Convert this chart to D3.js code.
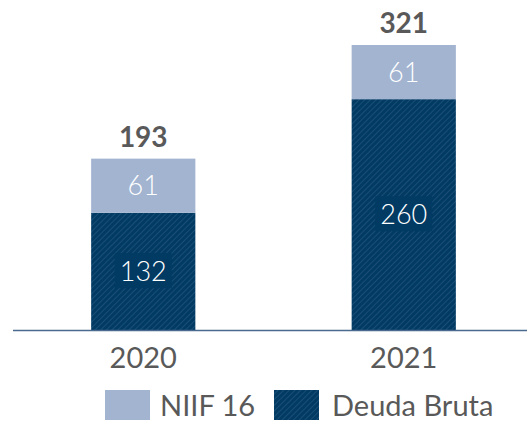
<!DOCTYPE html>
<html>
<head>
<meta charset="utf-8">
<script src="https://cdn.jsdelivr.net/npm/d3@7"></script>
<style>
  body { margin: 0; background: #fff; }
  svg text { font-family: Lato, "Open Sans", sans-serif; }
</style>
</head>
<body>
<div id="chart"></div>
<script>
// datos
var years = ["2020", "2021"];
var deudaBruta = [132, 260];
var niif16 = [61, 61];
var totals = [193, 321];
var seriesNames = ["NIIF 16", "Deuda Bruta"];

var width = 527, height = 421;
var baseY = 330;

var svg = d3.select("#chart").append("svg")
    .attr("width", width)
    .attr("height", height);

// patron rayado
var pat = svg.append("defs").append("pattern")
    .attr("id", "hatch")
    .attr("patternUnits", "userSpaceOnUse")
    .attr("width", 4).attr("height", 4)
    .attr("patternTransform", "rotate(45)");
pat.append("rect").attr("width", 4).attr("height", 4).attr("fill", "#013a63");
pat.append("line").attr("x1", 0).attr("y1", 0).attr("x2", 0).attr("y2", 4)
    .attr("stroke", "#2f5e86").attr("stroke-width", 1.1);

var x = d3.scaleBand().domain(years).range([13, 534]).paddingInner(0.6).paddingOuter(0.3);
var y = d3.scaleLinear().domain([0, 321]).range([baseY, 45]);

var colorLight = "#a2b4d0";

var g = svg.append("g");

// deuda bruta
g.selectAll(".deuda").data(years).enter().append("rect")
    .attr("x", function (d) { return x(d); })
    .attr("y", function (d, i) { return y(deudaBruta[i]); })
    .attr("width", x.bandwidth())
    .attr("height", function (d, i) { return baseY - y(deudaBruta[i]); })
    .attr("fill", "url(#hatch)");

// niif 16
g.selectAll(".niif").data(years).enter().append("rect")
    .attr("x", function (d) { return x(d); })
    .attr("y", function (d, i) { return y(deudaBruta[i] + niif16[i]); })
    .attr("width", x.bandwidth())
    .attr("height", function (d, i) { return y(deudaBruta[i]) - y(deudaBruta[i] + niif16[i]); })
    .attr("fill", colorLight);

// etiquetas deuda con fondo
years.forEach(function (d, i) {
    var cx = x(d) + x.bandwidth() / 2;
    var cy = (y(0) + y(deudaBruta[i])) / 2;
    var t = g.append("text")
        .attr("x", cx).attr("y", cy)
        .attr("text-anchor", "middle").attr("dy", "0.36em")
        .attr("font-size", 27).attr("font-weight", 300).attr("fill", "#fff")
        .text(deudaBruta[i]);
    var bb = t.node().getBBox();
    g.insert("rect", function () { return t.node(); })
        .attr("x", bb.x - 5).attr("y", bb.y - 1)
        .attr("width", bb.width + 10).attr("height", bb.height + 2)
        .attr("fill", "#013a63");

    g.append("text")
        .attr("x", cx).attr("y", (y(deudaBruta[i]) + y(totals[i])) / 2)
        .attr("text-anchor", "middle").attr("dy", "0.36em")
        .attr("font-size", 27).attr("font-weight", 300).attr("fill", "#fff")
        .text(niif16[i]);

    g.append("text")
        .attr("x", cx).attr("y", y(totals[i]) - 22)
        .attr("text-anchor", "middle").attr("dy", "0.36em")
        .attr("font-size", 28).attr("font-weight", "bold").attr("fill", "#595959")
        .text(totals[i]);
});

// eje
svg.append("line")
    .attr("x1", 13).attr("x2", width)
    .attr("y1", baseY + 0.5).attr("y2", baseY + 0.5)
    .attr("stroke", "#4a6a8f").attr("stroke-width", 1.5);

svg.selectAll(".yr").data(years).enter().append("text")
    .attr("x", function (d) { return x(d) + x.bandwidth() / 2; })
    .attr("y", 358).attr("dy", "0.36em")
    .attr("text-anchor", "middle")
    .attr("font-size", 29).attr("fill", "#595959")
    .text(function (d) { return d; });

// leyenda
var legend = [
    { name: seriesNames[0], fill: colorLight, x: 105, tx: 160 },
    { name: seriesNames[1], fill: "url(#hatch)", x: 274, tx: 332 }
];
legend.forEach(function (l) {
    svg.append("rect").attr("x", l.x).attr("y", 390).attr("width", 45).attr("height", 30).attr("fill", l.fill);
    svg.append("text").attr("x", l.tx).attr("y", 406).attr("dy", "0.36em")
        .attr("font-size", 29).attr("fill", "#595959").text(l.name);
});
</script>
</body>
</html>
